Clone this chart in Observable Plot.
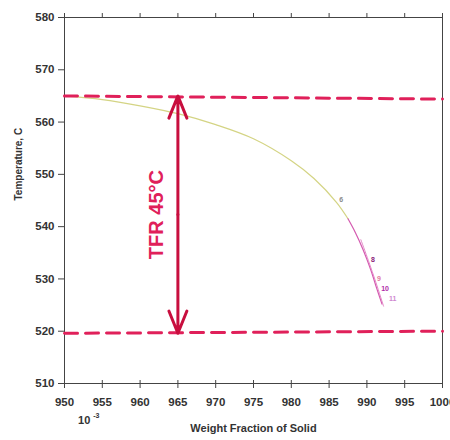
<!DOCTYPE html>
<html><head><meta charset="utf-8">
<script src="https://cdn.jsdelivr.net/npm/d3@7"></script>
<script src="https://cdn.jsdelivr.net/npm/@observablehq/plot@0.6"></script>
<style>
body{margin:0;background:#fff;}
svg{font-family:"Liberation Sans",Arial,sans-serif;}
</style></head>
<body><div id="chart"></div>
<script>
// ---- data ----
const xTicks = [950, 955, 960, 965, 970, 975, 980, 985, 990, 995, 1000];
const yTicks = [510, 520, 530, 540, 550, 560, 570, 580];
const yTickLabels = ["510", "520", "530", "540", "550", "560", "570", "580"];

// main solidification curve (yellow-green part)
const curveX = [950, 955, 960, 965, 970, 975, 980, 983, 986, 987.5];
const curveT = [565, 564.3, 563.1, 561.6, 559.5, 556.8, 552.6, 549.2, 544.6, 541.5];
// pink / magenta tail
const tailX = [987.5, 988.5, 989.5, 990.5, 991.3, 992];
const tailT = [541.5, 538.8, 535.6, 531.8, 528.2, 525.2];
const tail2X = [989.2, 990.2, 991.2, 992.2];
const tail2T = [537.5, 533.5, 529.3, 524.8];

// point labels
const lblText = ["6", "8", "9", "10", "11"];
const lblX = [986.6, 990.8, 991.6, 992.4, 993.4];
const lblT = [545.2, 533.6, 530.0, 528.2, 526.2];
const lblColor = ["#8a8a8a", "#8a1a78", "#e07aa0", "#b02aa8", "#d088d0"];

// freezing range reference lines
const dashX = [950, 1000];
const liquidusT = [565, 564.4];
const solidusT = [519.6, 520];

// TFR arrow
const arrowX = 965;
const arrowTop = 565;
const arrowBottom = 519.6;
const tfrLabel = "TFR 45°C";

const curve = curveX.map((x, i) => ({x, t: curveT[i]}));
const tail = tailX.map((x, i) => ({x, t: tailT[i]}));
const tail2 = tail2X.map((x, i) => ({x, t: tail2T[i]}));
const labels = lblText.map((s, i) => ({s, x: lblX[i], t: lblT[i], c: lblColor[i]}));
const liq = dashX.map((x, i) => ({x, t: liquidusT[i]}));
const sol = dashX.map((x, i) => ({x, t: solidusT[i]}));
const mid = (arrowTop + arrowBottom) / 2;

const red = "#e0205a";
const dark = "#c80e3e";
const axisColor = "#333";

const chart = Plot.plot({
  width: 450,
  height: 440,
  marginLeft: 64,
  marginRight: 8,
  marginTop: 17,
  marginBottom: 57,
  style: {fontFamily: "'Liberation Sans', Arial, sans-serif", background: "#fff", color: axisColor},
  x: {domain: [950, 1000]},
  y: {domain: [510, 580]},
  marks: [
    Plot.frame({stroke: "#444", strokeWidth: 1}),
    Plot.axisX({ticks: xTicks, tickSize: 5, tickFormat: d => String(d), fontSize: 11.5, fontWeight: "bold", tickPadding: 9, label: null, stroke: "#444"}),
    Plot.axisX({ticks: xTicks, tickSize: -3, tickFormat: () => "", label: null, stroke: "#444"}),
    Plot.axisX({anchor: "top", ticks: xTicks, tickSize: 5, tickFormat: () => "", label: null, stroke: "#444"}),
    Plot.axisY({ticks: yTicks, tickSize: 6, tickFormat: (d) => yTickLabels[yTicks.indexOf(d)], fontSize: 11.5, fontWeight: "bold", tickPadding: 4, label: null, stroke: "#444"}),
    // curves
    Plot.line(curve, {x: "x", y: "t", stroke: "#d4d484", strokeWidth: 1.2, curve: "catmull-rom"}),
    Plot.line(tail, {x: "x", y: "t", stroke: "#d45ab0", strokeWidth: 1.2, curve: "catmull-rom"}),
    Plot.line(tail2, {x: "x", y: "t", stroke: "#e48ac8", strokeWidth: 1, curve: "catmull-rom"}),
    Plot.text(labels, {x: "x", y: "t", text: "s", fill: "c", fontSize: 7, fontWeight: "bold"}),
    // dashed reference lines
    Plot.line(liq, {x: "x", y: "t", stroke: red, strokeWidth: 3, strokeDasharray: "13,8"}),
    Plot.line(sol, {x: "x", y: "t", stroke: red, strokeWidth: 3, strokeDasharray: "13,8"}),
    // double-headed arrow
    Plot.arrow([{x: arrowX, y1: mid, y2: arrowTop}, {x: arrowX, y1: mid, y2: arrowBottom}], {
      x1: "x", x2: "x", y1: "y1", y2: "y2", stroke: dark, strokeWidth: 3, headLength: 12, headAngle: 44, bend: 0
    }),
    Plot.text([tfrLabel], {x: 962.2, y: mid, text: d => d, rotate: -90, fill: red, fontSize: 20, fontWeight: "bold"}),
    // axis titles
    Plot.text(["Temperature, C"], {frameAnchor: "left", dx: -46, rotate: -90, fontSize: 10, fontWeight: "bold", fill: "#333"}),
    Plot.text(["Weight Fraction of Solid"], {frameAnchor: "bottom", dy: 48, fontSize: 11, fontWeight: "bold", fill: "#333"}),
    Plot.text(["10"], {x: 952.6, frameAnchor: "bottom", dy: 40, fontSize: 11, fontWeight: "bold", fill: "#333"}),
    Plot.text(["-3"], {x: 954.2, frameAnchor: "bottom", dy: 34, fontSize: 7, fontWeight: "bold", fill: "#333"})
  ]
});
document.getElementById("chart").appendChild(chart);
</script>
</body></html>
